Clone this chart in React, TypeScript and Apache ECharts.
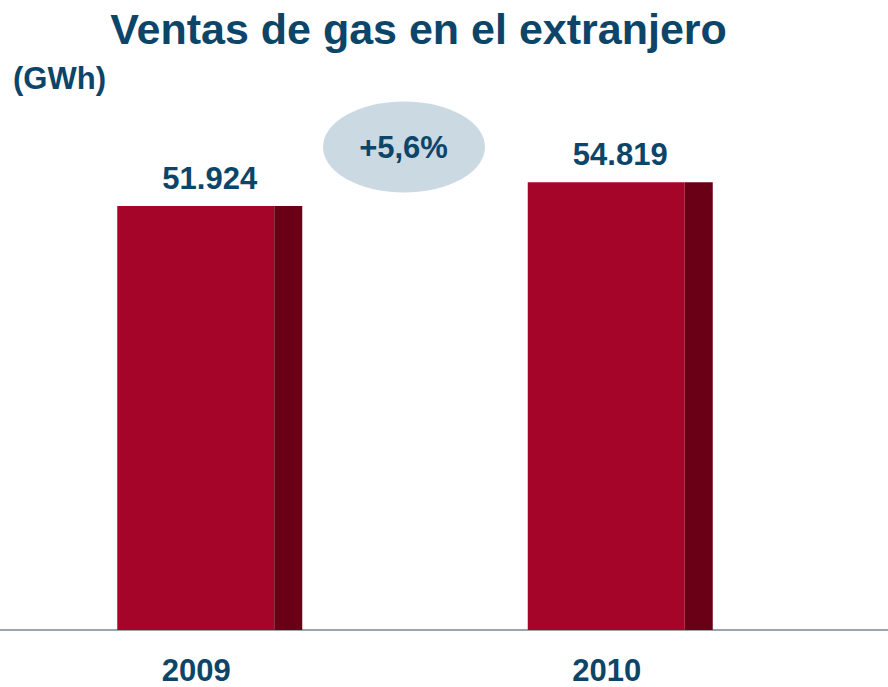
import React, { useEffect, useRef } from "react";
import * as echarts from "echarts";

const categories = ["2009", "2010"];
const values = [51924, 54819];
const valueLabels = ["51.924", "54.819"];
const titleText = "Ventas de gas en el extranjero";
const unitText = "(GWh)";
const growthText = "+5,6%";

const BLUE = "#0d4568";
const RED = "#a6052a";
const DARK = "#6a0016";
const FONT = "'Liberation Sans', Arial, sans-serif";

export default function App() {
  const ref = useRef<HTMLDivElement>(null);
  useEffect(() => {
    if (!ref.current) return;
    const chart = echarts.init(ref.current, null, { renderer: "svg" });
    chart.setOption({
      animation: false,
      backgroundColor: "#ffffff",
      grid: { left: 4.5, right: 62.5, top: 140, bottom: 57, containLabel: false },
      xAxis: {
        type: "category",
        data: categories,
        axisLine: { show: false },
        axisTick: { show: false },
        axisLabel: {
          color: BLUE,
          fontFamily: FONT,
          fontWeight: "bold",
          fontSize: 31,
          lineHeight: 30,
          margin: 25,
          padding: [0, 27, 0, 0],
        },
      },
      yAxis: {
        type: "value",
        min: 0,
        max: 60000,
        show: false,
        splitLine: { show: false },
      },
      series: [
        {
          type: "bar",
          data: values,
          barWidth: 157,
          barGap: "0%",
          itemStyle: { color: RED },
          label: {
            show: true,
            position: "top",
            distance: 12,
            offset: [14, 0],
            color: BLUE,
            fontFamily: FONT,
            fontWeight: "bold",
            fontSize: 31,
            formatter: (p: any) => valueLabels[p.dataIndex],
          },
        },
        {
          type: "bar",
          data: values,
          barWidth: 28,
          barGap: "0%",
          itemStyle: { color: DARK },
        },
      ],
      graphic: [
        {
          type: "line",
          shape: { x1: 0, y1: 630, x2: 888, y2: 630 },
          style: { stroke: "#9ca5ae", lineWidth: 2 },
        },
        {
          type: "text",
          x: 418.5,
          y: 7,
          style: {
            text: titleText,
            fill: BLUE,
            font: `bold 43px ${FONT}`,
            textAlign: "center",
            textVerticalAlign: "top",
          },
        },
        {
          type: "text",
          x: 13,
          y: 63,
          style: {
            text: unitText,
            fill: BLUE,
            font: `bold 31px ${FONT}`,
            textAlign: "left",
            textVerticalAlign: "top",
          },
        },
        {
          type: "ellipse",
          shape: { cx: 404, cy: 147, rx: 81, ry: 45.5 },
          style: { fill: "#cbd9e3" },
        },
        {
          type: "text",
          x: 403.5,
          y: 147,
          style: {
            text: growthText,
            fill: BLUE,
            font: `bold 31px ${FONT}`,
            textAlign: "center",
            textVerticalAlign: "middle",
          },
        },
      ],
    });
    return () => chart.dispose();
  }, []);
  return (
    <div
      ref={ref}
      style={{ position: "fixed", left: 0, top: 0, width: 888, height: 687 }}
    />
  );
}
